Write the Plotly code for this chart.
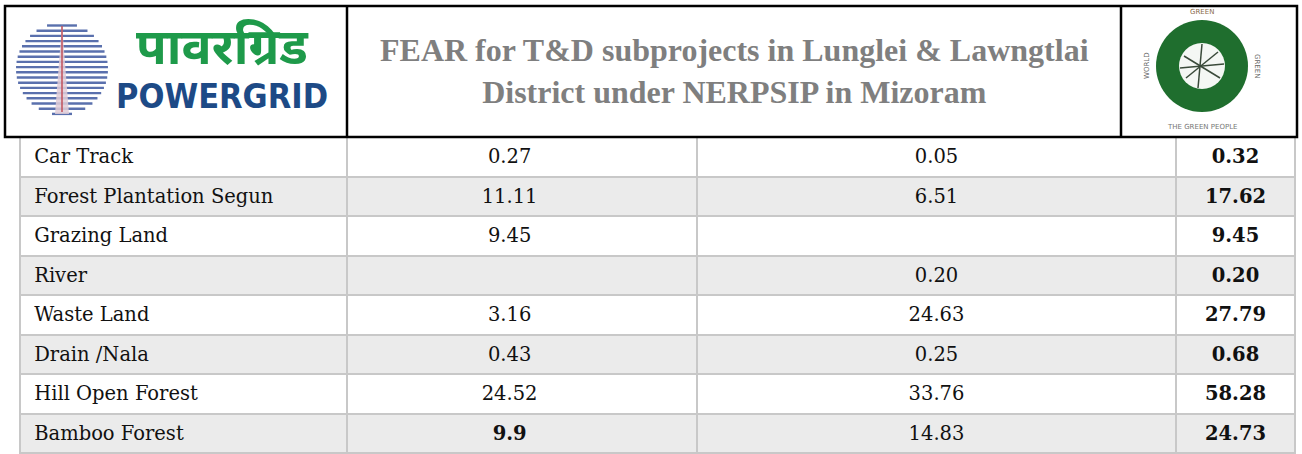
import numpy as np
import plotly.graph_objects as go

# ---------------- data ----------------
categories = ["Car Track", "Forest Plantation Segun", "Grazing Land", "River",
              "Waste Land", "Drain /Nala", "Hill Open Forest", "Bamboo Forest"]
lunglei = ["0.27", "11.11", "9.45", "", "3.16", "0.43", "24.52", "9.9"]
lawngtlai = ["0.05", "6.51", "", "0.20", "24.63", "0.25", "33.76", "14.83"]
totals = ["0.32", "17.62", "9.45", "0.20", "27.79", "0.68", "58.28", "24.73"]
bold_lunglei = [False, False, False, False, False, False, False, True]
title_lines = ["FEAR for T&D subprojects in Lunglei & Lawngtlai",
               "District under NERPSIP in Mizoram"]

W, H = 1302, 454
def px(x):
    return x / W
def py(y):
    return 1 - y / H

NB = "\u00a0"
def norm(s):
    return "<span>%s</span>" % s if s else ""
col1 = [norm(NB + c) for c in categories]
col2 = [(("<b>%s</b>" % v) if b else norm(v)) + NB * 4 for v, b in zip(lunglei, bold_lunglei)]
col3 = [norm(v) for v in lawngtlai]
col4 = ["<b>%s</b>" % v for v in totals]
columns = [col1, col2, col3, col4]

row_fill = ["#ffffff" if i % 2 == 0 else "#ebebeb" for i in range(len(categories))]
aligns = ["left", "center", "center", "center"]
cell_font = dict(family="DejaVu Serif", size=19.5, color="#111111")
ROW_H = 39.5

fig = go.Figure()
# first data row is placed in the table's header slot so no empty header band shows
fig.add_trace(go.Table(
    domain=dict(x=[px(20), px(1295)], y=[0, py(137)]),
    columnwidth=[327, 350, 479, 119],
    header=dict(
        values=[c[0] for c in columns],
        align=aligns,
        fill=dict(color=row_fill[0]),
        line=dict(color="#c8c8c8", width=2),
        font=cell_font,
        height=ROW_H,
    ),
    cells=dict(
        values=[c[1:] for c in columns],
        align=aligns,
        fill=dict(color=[row_fill[1:]] * 4),
        line=dict(color="#c8c8c8", width=2),
        font=cell_font,
        height=ROW_H,
    ),
))

# invisible pixel axes for decoration
fig.update_xaxes(range=[0, W], visible=False, fixedrange=True)
fig.update_yaxes(range=[H, 0], visible=False, fixedrange=True)

shapes = []
# header box
shapes.append(dict(type="rect", xref="x", yref="y", x0=5, x1=1297, y0=6, y1=137,
                   line=dict(color="#000000", width=2.5), layer="above"))
for xv in (347, 1121):
    shapes.append(dict(type="line", xref="x", yref="y", x0=xv, x1=xv, y0=6, y1=137,
                       line=dict(color="#000000", width=2.5), layer="above"))

# POWERGRID logo: striped circle
cx, cy, r = 62, 69, 46
for yy in np.arange(cy - r + 2.5, cy + r - 1, 5.2):
    half = np.sqrt(max(r * r - (yy - cy) ** 2, 0))
    shapes.append(dict(type="line", xref="x", yref="y", x0=cx - half, x1=cx + half,
                       y0=yy, y1=yy, line=dict(color="#5a70ad", width=2.4)))
shapes.append(dict(type="path", xref="x", yref="y",
                   path="M 62 24 L 55 114 L 69 114 Z",
                   fillcolor="rgba(225,205,215,0.85)", line=dict(width=0)))
shapes.append(dict(type="line", xref="x", yref="y", x0=62, x1=62, y0=26, y1=112,
                   line=dict(color="#c0505a", width=1.5)))

# Green logo
gx, gy = 1202, 66
shapes.append(dict(type="circle", xref="x", yref="y", x0=gx - 46, x1=gx + 46,
                   y0=gy - 46, y1=gy + 46, fillcolor="#1f6e2e", line=dict(width=0)))
shapes.append(dict(type="circle", xref="x", yref="y", x0=gx - 23, x1=gx + 23,
                   y0=gy - 23, y1=gy + 23, fillcolor="#f4f7f4", line=dict(width=0)))
for (a, b) in [((-18, -10), (18, 12)), ((-16, 12), (16, -14)), ((0, -22), (-4, 22)),
               ((-22, 2), (22, -2))]:
    shapes.append(dict(type="line", xref="x", yref="y", x0=gx + a[0], y0=gy + a[1],
                       x1=gx + b[0], y1=gy + b[1], line=dict(color="#3a4a3a", width=1.5)))

annotations = []
annotations.append(dict(xref="x", yref="y", x=222, y=45, text="<b>पावरग्रिड</b>", showarrow=False,
                        font=dict(family="Noto Sans", size=50, color="#1e9a4a"),
                        xanchor="center", yanchor="middle"))
annotations.append(dict(xref="x", yref="y", x=222, y=96, text="<b>POWERGRID</b>", showarrow=False,
                        font=dict(family="DejaVu Sans Condensed, Liberation Sans", size=34, color="#1d4a86"),
                        xanchor="center", yanchor="middle"))
annotations.append(dict(xref="x", yref="y", x=734, y=71, text="<br>".join("<b>%s</b>" % t for t in title_lines),
                        showarrow=False, font=dict(family="Liberation Serif", size=32, color="#7f7f7f"),
                        xanchor="center", yanchor="middle", align="center"))
annotations.append(dict(xref="x", yref="y", x=1202, y=127, text="THE GREEN PEOPLE",
                        showarrow=False, font=dict(family="DejaVu Sans", size=7, color="#777777"),
                        xanchor="center", yanchor="middle"))
annotations.append(dict(xref="x", yref="y", x=1202, y=12, text="GREEN",
                        showarrow=False, font=dict(family="DejaVu Sans", size=7, color="#8a6a4a"),
                        xanchor="center", yanchor="middle"))
annotations.append(dict(xref="x", yref="y", x=1147, y=66, text="WORLD", textangle=-90,
                        showarrow=False, font=dict(family="DejaVu Sans", size=7, color="#666666"),
                        xanchor="center", yanchor="middle"))
annotations.append(dict(xref="x", yref="y", x=1257, y=66, text="GREEN", textangle=90,
                        showarrow=False, font=dict(family="DejaVu Sans", size=7, color="#666666"),
                        xanchor="center", yanchor="middle"))

fig.update_layout(
    width=W, height=H,
    margin=dict(l=0, r=0, t=0, b=0),
    paper_bgcolor="#ffffff", plot_bgcolor="rgba(0,0,0,0)",
    shapes=shapes, annotations=annotations,
    showlegend=False,
)
fig.write_html("out.html", config={"displayModeBar": False},
               post_script="document.body.style.margin='0px';")
